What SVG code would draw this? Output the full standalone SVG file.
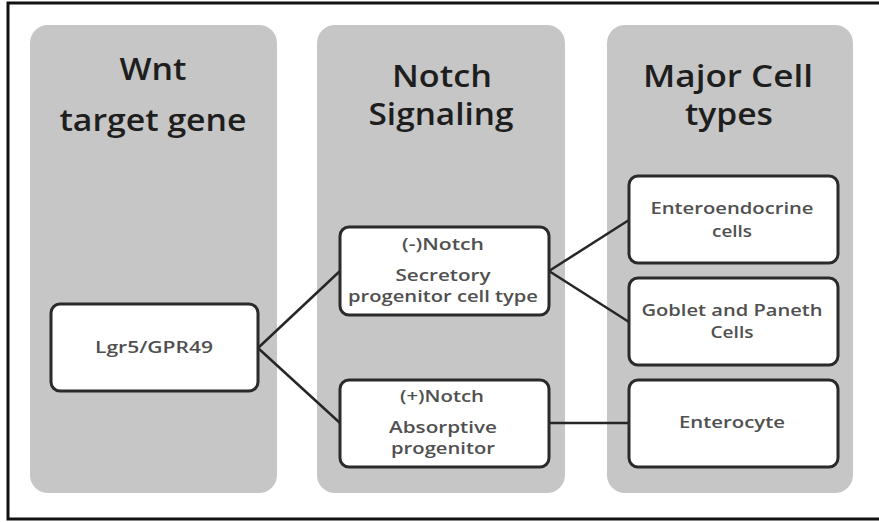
<svg xmlns="http://www.w3.org/2000/svg" width="879" height="522" viewBox="0 0 879 522">
<style>
.col{fill:#c6c6c6}
.box{fill:#fff;stroke:#2a2a2a;stroke-width:3}
.title{font-family:"Open Sans","Liberation Sans",sans-serif;font-size:31px;font-weight:600;fill:#1e1e1e;text-anchor:middle}
.lbl{font-family:"Open Sans","Liberation Sans",sans-serif;font-size:17px;font-weight:600;fill:#505050;text-anchor:middle}
.con{stroke:#262626;stroke-width:2.5;fill:none}
</style>
<rect x="0" y="0" width="879" height="522" fill="#fff"/>
<rect x="8" y="3" width="880" height="516" fill="none" stroke="#111" stroke-width="3"/>
<g id="col-wnt">
<rect class="col" x="30" y="25" width="247" height="468" rx="18"/>
<text class="title" x="153" y="80" textLength="67" lengthAdjust="spacingAndGlyphs">Wnt</text>
<text class="title" x="153" y="131" textLength="187" lengthAdjust="spacingAndGlyphs">target gene</text>
</g>
<g id="col-notch">
<rect class="col" x="317" y="25" width="248" height="468" rx="18"/>
<text class="title" x="442" y="87" textLength="100" lengthAdjust="spacingAndGlyphs">Notch</text>
<text class="title" x="441" y="125" textLength="145" lengthAdjust="spacingAndGlyphs">Signaling</text>
</g>
<g id="col-cells">
<rect class="col" x="607" y="25" width="246" height="468" rx="18"/>
<text class="title" x="728" y="87" textLength="170" lengthAdjust="spacingAndGlyphs">Major Cell</text>
<text class="title" x="729" y="125" textLength="88" lengthAdjust="spacingAndGlyphs">types</text>
</g>
<g id="connectors">
<line class="con" x1="258" y1="348" x2="340" y2="271"/>
<line class="con" x1="258" y1="348" x2="340" y2="423"/>
<line class="con" x1="549" y1="271" x2="629" y2="220"/>
<line class="con" x1="549" y1="271" x2="629" y2="322"/>
<line class="con" x1="549" y1="423" x2="629" y2="423"/>
</g>
<g id="lgr5">
<rect class="box" x="51" y="304" width="207" height="87" rx="9"/>
<text class="lbl" x="154" y="353" textLength="118" lengthAdjust="spacingAndGlyphs">Lgr5/GPR49</text>
</g>
<g id="neg-notch">
<rect class="box" x="340" y="227" width="209" height="88" rx="9"/>
<text class="lbl" x="443" y="250" textLength="82" lengthAdjust="spacingAndGlyphs">(-)Notch</text>
<text class="lbl" x="443" y="281" textLength="95" lengthAdjust="spacingAndGlyphs">Secretory</text>
<text class="lbl" x="443" y="302" textLength="190" lengthAdjust="spacingAndGlyphs">progenitor cell type</text>
</g>
<g id="pos-notch">
<rect class="box" x="340" y="380" width="209" height="87" rx="9"/>
<text class="lbl" x="442" y="402" textLength="84" lengthAdjust="spacingAndGlyphs">(+)Notch</text>
<text class="lbl" x="443" y="433" textLength="108" lengthAdjust="spacingAndGlyphs">Absorptive</text>
<text class="lbl" x="443" y="454" textLength="104" lengthAdjust="spacingAndGlyphs">progenitor</text>
</g>
<g id="enteroendocrine">
<rect class="box" x="629" y="176" width="209" height="87" rx="9"/>
<text class="lbl" x="732" y="214" textLength="163" lengthAdjust="spacingAndGlyphs">Enteroendocrine</text>
<text class="lbl" x="732" y="237" textLength="40" lengthAdjust="spacingAndGlyphs">cells</text>
</g>
<g id="goblet">
<rect class="box" x="629" y="278" width="209" height="87" rx="9"/>
<text class="lbl" x="732" y="316" textLength="181" lengthAdjust="spacingAndGlyphs">Goblet and Paneth</text>
<text class="lbl" x="732" y="338" textLength="43" lengthAdjust="spacingAndGlyphs">Cells</text>
</g>
<g id="enterocyte">
<rect class="box" x="629" y="380" width="209" height="87" rx="9"/>
<text class="lbl" x="732" y="428" textLength="106" lengthAdjust="spacingAndGlyphs">Enterocyte</text>
</g>
</svg>
